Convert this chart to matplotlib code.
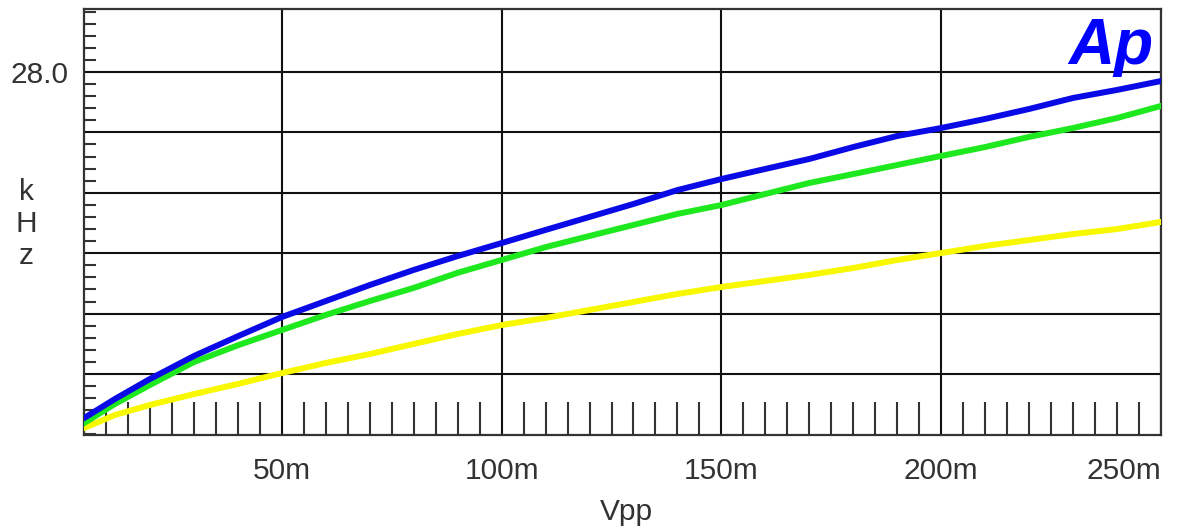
import numpy as np
import matplotlib
matplotlib.use("Agg")
import matplotlib.pyplot as plt
from matplotlib.ticker import MultipleLocator, FixedLocator

# --- Datos (Vpp en mV, frecuencia en kHz) ---
vpp = [5, 12, 20, 30, 40, 50, 60, 70, 80, 90, 100, 110, 120, 130, 140,
       150, 160, 170, 180, 190, 200, 210, 220, 230, 240, 250]

khz_azul = [5.08, 6.34, 7.67, 9.19, 10.50, 11.77, 12.83, 13.89, 14.89, 15.81,
            16.67, 17.54, 18.40, 19.26, 20.18, 20.91, 21.58, 22.24, 23.03, 23.76,
            24.29, 24.89, 25.55, 26.28, 26.81, 27.40]

khz_verde = [4.75, 6.01, 7.27, 8.79, 9.90, 10.91, 11.91, 12.83, 13.70, 14.70,
             15.55, 16.40, 17.14, 17.87, 18.60, 19.19, 19.92, 20.65, 21.24, 21.84,
             22.44, 23.03, 23.70, 24.29, 24.95, 25.75]

khz_amarillo = [4.42, 5.28, 5.95, 6.67, 7.34, 8.06, 8.73, 9.32, 9.99, 10.65,
                11.24, 11.71, 12.24, 12.77, 13.30, 13.76, 14.16, 14.56, 15.02, 15.55,
                16.01, 16.48, 16.87, 17.27, 17.60, 18.07]

x_ticks = [50, 100, 150, 200, 250]
x_labels = ["50m", "100m", "150m", "200m", "250m"]
y_grid = [8, 12, 16, 20, 24, 28]

gris = "#333333"
plt.rcParams["font.family"] = ["Liberation Sans", "DejaVu Sans"]

fig = plt.figure(figsize=(11.77, 5.31), dpi=100)
ax = fig.add_axes([84 / 1177, 1 - 435 / 531, (1161 - 84) / 1177, (435 - 9) / 531])

# --- Curvas ---
ax.plot(vpp, khz_amarillo, color="#f8f800", lw=4.3, zorder=3)
ax.plot(vpp, khz_verde, color="#1ee81e", lw=4.3, zorder=4)
ax.plot(vpp, khz_azul, color="#0a0ae6", lw=4.3, zorder=5)

ax.set_xlim(5, 250)
ax.set_ylim(3.96, 32.17)

# --- Rejilla y marcas ---
ax.xaxis.set_major_locator(FixedLocator(x_ticks))
ax.set_xticklabels(x_labels)
ax.xaxis.set_minor_locator(MultipleLocator(5))
ax.yaxis.set_major_locator(FixedLocator(y_grid))
ax.set_yticklabels(["" if v != 28 else "28.0" for v in y_grid])
ax.yaxis.set_minor_locator(MultipleLocator(0.8))

ax.grid(True, which="major", color="#111111", lw=1.5, zorder=1)
ax.tick_params(axis="x", which="major", length=0, pad=16, labelsize=21.5, labelcolor=gris)
ax.tick_params(axis="y", which="major", length=0, pad=11, labelsize=21.5, labelcolor=gris)
ax.tick_params(axis="x", which="minor", direction="in", length=24, width=1.5, color=gris)
ax.tick_params(axis="y", which="minor", direction="in", length=8.6, width=1.5, color=gris)

ultima = ax.get_xticklabels()[-1]
ultima.set_ha("right")
ultima.set_x(251.5)

for s in ax.spines.values():
    s.set_color(gris)
    s.set_linewidth(1.6)

# --- Textos ---
fig.text(626 / 1177, 1 - 512 / 531, "Vpp", ha="center", va="center", fontsize=21.5, color=gris)
fig.text(26 / 1177, 1 - 224 / 531, "k\nH\nz", ha="center", va="center", fontsize=21.5,
         color=gris, linespacing=1.2)
ax.text(0.993, 0.982, "Ap", transform=ax.transAxes, ha="right", va="top", fontsize=46,
        fontweight="bold", fontstyle="italic", color="#0000ff", zorder=6)

fig.savefig("out.png", dpi=100)
